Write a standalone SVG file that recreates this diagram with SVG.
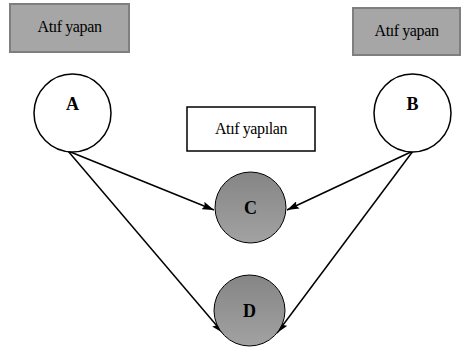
<svg xmlns="http://www.w3.org/2000/svg" width="462" height="347" viewBox="0 0 462 347">
<defs>
<marker id="ah" viewBox="0 0 12 8" refX="12" refY="4" markerWidth="12" markerHeight="8" markerUnits="userSpaceOnUse" orient="auto">
<path d="M0,0 L12,4 L0,8 L2,4 z" fill="#000"/>
</marker>
<linearGradient id="g" x1="0" y1="0" x2="0" y2="1">
<stop offset="0" stop-color="#858585"/>
<stop offset="1" stop-color="#a2a2a2"/>
</linearGradient>
<style>
.lbl{font-family:"Liberation Serif","DejaVu Serif",serif;font-size:16px;fill:#000;text-anchor:middle;letter-spacing:-0.4px}
.let{font-family:"Liberation Serif","DejaVu Serif",serif;font-size:18px;font-weight:bold;fill:#000;text-anchor:middle}
.gbox{fill:#a6a6a6;stroke:#7f7f7f;stroke-width:2}
.wc{fill:#fff;stroke:#000;stroke-width:1.5}
.gc{fill:url(#g);stroke:#000;stroke-width:1}
.edge{stroke:#000;stroke-width:1.5;fill:none;marker-end:url(#ah)}
</style>
</defs>
<rect width="462" height="347" fill="#fff"/>
<g id="label-left"><rect class="gbox" x="10" y="4" width="119" height="48"/><text class="lbl" x="69.5" y="32">Atıf yapan</text></g>
<g id="label-right"><rect class="gbox" x="353" y="8" width="107" height="47"/><text class="lbl" x="406.5" y="36">Atıf yapan</text></g>
<g id="label-cited"><rect x="187" y="107" width="128" height="44" fill="#fff" stroke="#000" stroke-width="1.5"/><text class="lbl" x="251" y="134">Atıf yapılan</text></g>
<g id="connectors">
<line class="edge" x1="68" y1="151" x2="214" y2="210"/>
<line class="edge" x1="68" y1="151" x2="223" y2="333"/>
<line class="edge" x1="413" y1="151" x2="287" y2="210"/>
<line class="edge" x1="413" y1="151" x2="277" y2="333"/>
</g>
<g id="node-A"><ellipse class="wc" cx="72.5" cy="113" rx="38.5" ry="39"/><text class="let" x="72.5" y="110">A</text></g>
<g id="node-B"><ellipse class="wc" cx="412.5" cy="113" rx="38.5" ry="39"/><text class="let" x="412.5" y="110">B</text></g>
<g id="node-C"><circle class="gc" cx="250.5" cy="207.5" r="35.5"/><text class="let" x="250.5" y="214">C</text></g>
<g id="node-D"><circle class="gc" cx="249.5" cy="310.5" r="35.5"/><text class="let" x="249.5" y="317">D</text></g>
</svg>
